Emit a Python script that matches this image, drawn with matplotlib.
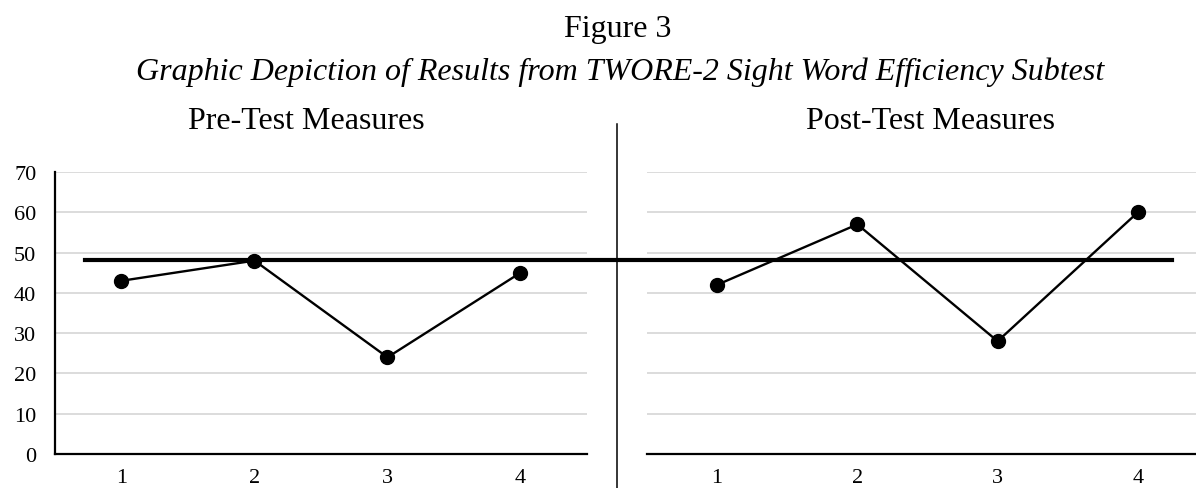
import matplotlib.pyplot as plt
from matplotlib.lines import Line2D
from matplotlib.transforms import blended_transform_factory

plt.rcParams['font.family'] = ['Liberation Serif', 'DejaVu Serif']

# data
sessions = [1, 2, 3, 4]
pre_scores = [43, 48, 24, 45]
post_scores = [42, 57, 28, 60]
baseline = 48.2
yticks = [0, 10, 20, 30, 40, 50, 60, 70]

W, H = 1196, 489
fig = plt.figure(figsize=(W / 100, H / 100), dpi=100)

def px_axes(x0, x1, y_top, y_bot):
    return fig.add_axes([x0 / W, 1 - y_bot / H, (x1 - x0) / W, (y_bot - y_top) / H])

ax1 = px_axes(55, 587, 173, 455)
ax2 = px_axes(647, 1208, 173, 455)

for ax, scores in [(ax1, pre_scores), (ax2, post_scores)]:
    ax.set_xlim(0.5, 4.5)
    ax.set_ylim(0, 70)
    ax.set_yticks(yticks)
    ax.set_xticks(sessions)
    ax.grid(axis='y', color='#d9d9d9', linewidth=1.3)
    ax.set_axisbelow(True)
    for s in ['top', 'right']:
        ax.spines[s].set_visible(False)
    ax.spines['bottom'].set_linewidth(1.6)
    ax.spines['left'].set_linewidth(1.6)
    ax.tick_params(length=0, labelsize=16)
    ax.tick_params(axis='x', pad=10)
    ax.tick_params(axis='y', pad=13.5)
    ax.plot(sessions, scores, color='black', linewidth=1.7, marker='o',
            markersize=10, zorder=4, clip_on=False)

ax2.spines['left'].set_visible(False)
ax2.tick_params(axis='y', labelleft=False)

# baseline across both phases
trans = blended_transform_factory(fig.transFigure, ax1.transData)
fig.add_artist(Line2D([85 / W, 1172 / W], [baseline, baseline], transform=trans,
                      color='black', linewidth=3.0, zorder=5))

# phase divider
fig.add_artist(Line2D([617 / W, 617 / W], [0, 1 - 125 / H], color='black', linewidth=1.1))

fig.text(306 / W, 1 - 129 / H, 'Pre-Test Measures', ha='center', va='baseline', fontsize=23)
fig.text(930 / W, 1 - 129 / H, 'Post-Test Measures', ha='center', va='baseline', fontsize=23)
fig.text(618 / W, 1 - 37 / H, 'Figure 3', ha='center', va='baseline', fontsize=23)
fig.text(620 / W, 1 - 80 / H,
         'Graphic Depiction of Results from TWORE-2 Sight Word Efficiency Subtest',
         ha='center', va='baseline', fontsize=23, style='italic')

fig.savefig('out.png', dpi=100)
